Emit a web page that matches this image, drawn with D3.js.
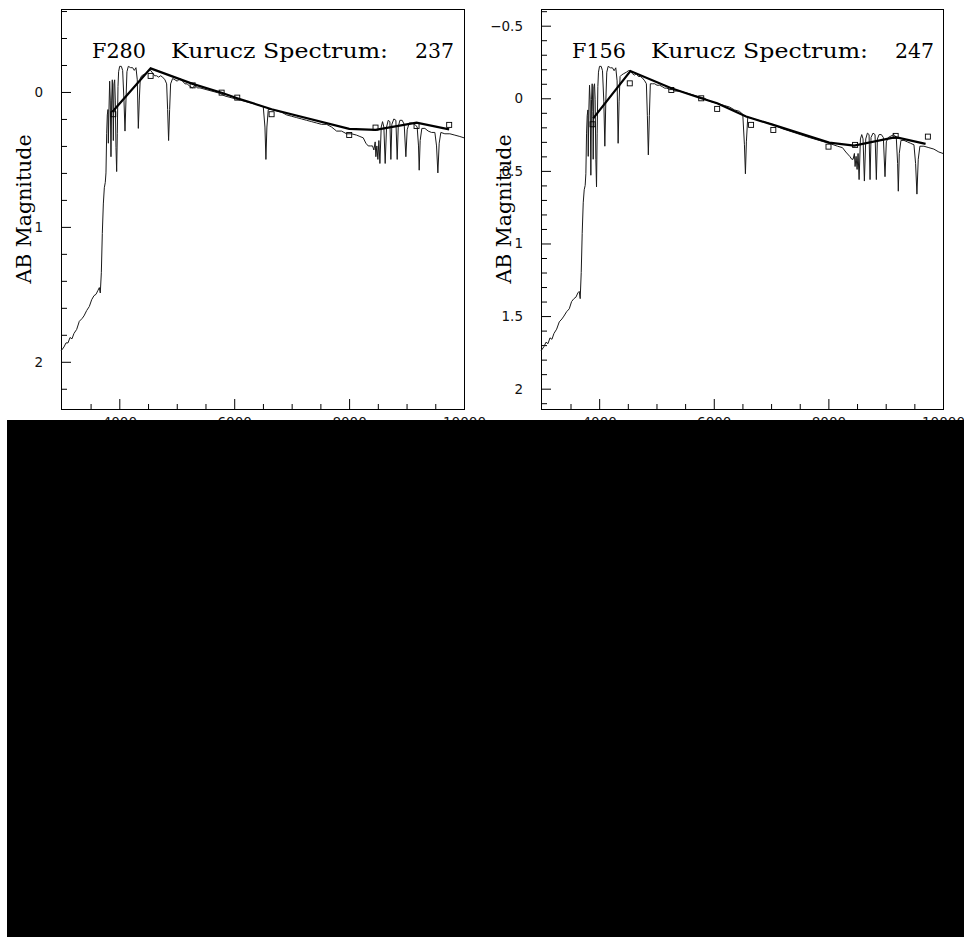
<!DOCTYPE html>
<html>
<head>
<meta charset="utf-8">
<script src="https://cdn.jsdelivr.net/npm/d3@7"></script>
<style>
body { margin: 0; background: #fff; }
svg { display: block; }
</style>
</head>
<body>
<div id="chart"></div>
<script>
// values: [wavelength (A), AB magnitude]
var spec237 = [[2985,1.92],[3037,1.89],[3072,1.86],[3107,1.86],[3142,1.82],[3176,1.83],[3211,1.79],[3258,1.76],[3304,1.70],[3350,1.68],[3385,1.66],[3432,1.62],[3478,1.59],[3519,1.54],[3559,1.51],[3594,1.50],[3629,1.47],[3652,1.45],[3669,1.49],[3687,1.34],[3704,1.05],[3722,0.83],[3739,0.71],[3756,0.67],[3768,0.60],[3780,0.31],[3791,0.17],
  [3803,0.13],[3809,0.38],[3820,0.13],[3832,-0.08],[3843,0.06],[3855,0.48],[3867,0.06],[3878,-0.09],[3890,0.13],[3896,0.36],[3907,-0.06],[3919,-0.09],[3930,0.06],[3942,0.41],[3954,0.59],[3965,0.31],[3977,-0.04],[3988,-0.15],[4006,-0.19],[4035,-0.19],[4058,-0.16],[4081,0.06],[4099,0.29],[4116,0.06],[4133,-0.15],[4157,-0.19],[4197,-0.18],[4232,-0.18],[4261,-0.16],[4290,-0.18],[4313,-0.09],[4331,0.27],[4348,0.06],[4365,-0.10],[4389,-0.12],[4429,-0.13],[4476,-0.14],[4510,-0.16],[4545,-0.16],[4580,-0.14],[4615,-0.12],[4650,-0.12],[4684,-0.11],[4719,-0.12],[4754,-0.11],[4795,-0.09],[4824,-0.06],[4841,0.13],[4858,0.36],[4876,0.13],[4893,-0.06],[4928,-0.10],[4969,-0.09],[5009,-0.08],[5056,-0.10],[5102,-0.08],[5143,-0.06],[5183,-0.06],[5230,-0.04],[5276,-0.03],[5317,-0.05],[5357,-0.03],[5404,-0.03],[5491,-0.02],[5578,-0.01],[5665,0.00],[5752,0.01],[5839,0.03],[5926,0.04],[6013,0.05],[6100,0.06],[6187,0.07],[6274,0.08],[6361,0.09],[6448,0.10],[6506,0.11],[6535,0.26],[6552,0.50],[6569,0.26],[6593,0.13],[6651,0.13],[6738,0.14],[6825,0.15],[6912,0.17],[6999,0.18],[7086,0.19],[7173,0.20],[7260,0.21],[7347,0.22],[7434,0.23],[7521,0.24],[7608,0.24],[7695,0.26],[7753,0.28],[7782,0.29],[7869,0.29],[7956,0.31],[8043,0.31],[8130,0.32],[8188,0.33],[8246,0.34],[8292,0.38],[8333,0.40],[8373,0.40],[8408,0.40],[8431,0.43],[8454,0.37],[8466,0.48],[8483,0.40],[8501,0.50],[8518,0.36],[8536,0.53],[8559,0.26],[8582,0.22],[8605,0.26],[8628,0.53],[8652,0.26],[8681,0.21],[8710,0.22],[8727,0.50],[8744,0.24],[8779,0.20],[8814,0.21],[8837,0.50],[8855,0.26],[8884,0.21],[8924,0.21],[8959,0.24],[8988,0.48],[9011,0.28],[9046,0.23],[9092,0.23],[9145,0.24],[9185,0.26],[9208,0.40],[9220,0.58],[9237,0.36],[9266,0.27],[9319,0.27],[9377,0.29],[9435,0.30],[9493,0.30],[9522,0.40],[9545,0.60],[9568,0.38],[9597,0.30],[9667,0.31],[9754,0.31],[9841,0.32],[9928,0.33],[10000,0.34]];
var synth237 = [[3880,0.146],[4545,-0.175],[5276,-0.06],[5781,0.006],[6053,0.046],[6651,0.128],[8002,0.274],[8460,0.281],[9174,0.227],[9742,0.277]];
var obs237 = [[3896,0.165],[4545,-0.119],[5276,-0.049],[5781,0.005],[6053,0.042],[6651,0.165],[8002,0.319],[8460,0.264],[9174,0.252],[9742,0.244]];

var spec247 = [[2985,1.74],[3037,1.71],[3072,1.68],[3107,1.69],[3142,1.65],[3176,1.66],[3211,1.62],[3258,1.59],[3304,1.54],[3350,1.52],[3385,1.50],[3432,1.47],[3478,1.45],[3519,1.40],[3559,1.38],[3594,1.37],[3629,1.34],[3652,1.33],[3669,1.38],[3687,1.20],[3704,0.93],[3722,0.72],[3739,0.63],[3756,0.60],[3768,0.52],[3780,0.24],[3791,0.12],
  [3803,0.08],[3809,0.40],[3820,0.08],[3832,-0.09],[3843,0.01],[3855,0.53],[3867,0.01],[3878,-0.10],[3890,0.09],[3896,0.42],[3907,-0.08],[3919,-0.10],[3930,0.01],[3942,0.42],[3954,0.61],[3965,0.24],[3977,-0.08],[3988,-0.18],[4006,-0.22],[4035,-0.22],[4058,-0.19],[4081,0.02],[4099,0.33],[4116,0.02],[4133,-0.18],[4157,-0.22],[4197,-0.21],[4232,-0.21],[4261,-0.19],[4290,-0.21],[4313,-0.12],[4331,0.31],[4348,0.02],[4365,-0.15],[4389,-0.16],[4429,-0.17],[4476,-0.18],[4510,-0.19],[4545,-0.19],[4580,-0.17],[4615,-0.16],[4650,-0.17],[4684,-0.15],[4719,-0.15],[4754,-0.14],[4795,-0.12],[4824,-0.10],[4841,0.12],[4858,0.39],[4876,0.12],[4893,-0.10],[4928,-0.10],[4969,-0.10],[5009,-0.09],[5056,-0.09],[5102,-0.08],[5143,-0.07],[5183,-0.07],[5230,-0.06],[5276,-0.06],[5317,-0.05],[5357,-0.05],[5404,-0.05],[5491,-0.04],[5578,-0.03],[5665,-0.02],[5752,-0.01],[5839,0.00],[5926,0.02],[6013,0.03],[6100,0.04],[6187,0.05],[6274,0.06],[6361,0.08],[6448,0.09],[6506,0.11],[6535,0.32],[6552,0.52],[6569,0.30],[6593,0.13],[6680,0.14],[6854,0.16],[7028,0.18],[7202,0.21],[7434,0.24],[7666,0.27],[7840,0.29],[8014,0.31],[8159,0.33],[8246,0.34],[8304,0.37],[8373,0.40],[8408,0.42],[8431,0.42],[8454,0.38],[8466,0.47],[8483,0.40],[8501,0.49],[8518,0.38],[8536,0.56],[8559,0.28],[8582,0.25],[8605,0.28],[8628,0.57],[8652,0.28],[8681,0.24],[8710,0.25],[8727,0.56],[8744,0.27],[8779,0.24],[8814,0.25],[8837,0.56],[8855,0.28],[8884,0.25],[8924,0.25],[8959,0.27],[8988,0.54],[9011,0.30],[9046,0.27],[9092,0.26],[9145,0.25],[9185,0.27],[9208,0.45],[9220,0.64],[9237,0.38],[9266,0.29],[9319,0.29],[9377,0.30],[9435,0.31],[9493,0.32],[9522,0.45],[9545,0.66],[9568,0.42],[9597,0.33],[9667,0.33],[9754,0.34],[9841,0.35],[9928,0.37],[10000,0.38]];
var synth247 = [[3896,0.138],[4545,-0.188],[5259,-0.069],[5781,0.0],[6059,0.034],[6564,0.126],[7039,0.183],[8014,0.305],[8449,0.326],[9174,0.268],[9696,0.314]];
var obs247 = [[3884,0.179],[4534,-0.103],[5259,-0.057],[5781,0.0],[6059,0.073],[6651,0.183],[7039,0.218],[8002,0.333],[8466,0.321],[9174,0.259],[9736,0.264]];

var xTicks = [4000, 6000, 8000, 10000];
var yTicks237 = [0, 1, 2];
var yTicks247 = [-0.5, 0, 0.5, 1, 1.5, 2];

var svgWidth = 964;
var svgHeight = 937;

var svg = d3.select("#chart")
            .append("svg")
            .attr("width", svgWidth)
            .attr("height", svgHeight);

function drawPanel(p) {
  var g = svg.append("g")
             .attr("transform", "translate(" + p.left + "," + p.top + ")");

  var x = d3.scaleLinear().domain([2985, 10000]).range([0, p.width]);
  var y = d3.scaleLinear().domain(p.yDomain).range([0, p.height]);

  // minor ticks first, then the labelled ones
  var xMinor = d3.range(3500, 10000, 500).filter(d => xTicks.indexOf(d) < 0);
  var yMinor = d3.range(-20, 40).map(i => +(i * p.yStep).toFixed(2))
                 .filter(d => d > p.yDomain[0] && d < p.yDomain[1] && p.yTicks.indexOf(d) < 0);

  g.append("g")
   .attr("transform", "translate(0," + p.height + ")")
   .call(d3.axisBottom(x).tickValues(xMinor).tickSize(-5).tickFormat(""));
  g.append("g")
   .attr("transform", "translate(0," + p.height + ")")
   .call(d3.axisBottom(x).tickValues(xTicks).tickSize(-10).tickPadding(8).tickFormat(d3.format("d")));
  g.append("g")
   .call(d3.axisLeft(y).tickValues(yMinor).tickSize(-6).tickFormat(""));
  g.append("g")
   .call(d3.axisLeft(y).tickValues(p.yTicks).tickSize(-10).tickPadding(18)
           .tickFormat(d => d < 0 ? "\u2212" + Math.abs(d) : String(d)));

  g.selectAll(".domain").remove();
  g.selectAll(".tick line").attr("stroke", "#000");
  g.selectAll(".tick text")
   .attr("font-family", "DejaVu Sans")
   .attr("font-size", "13.5px")
   .attr("fill", "#111");

  g.append("rect")
   .attr("x", 0.5).attr("y", 0.5)
   .attr("width", p.width).attr("height", p.height)
   .attr("fill", "none").attr("stroke", "#000").attr("stroke-width", 1);

  var line = d3.line().x(d => x(d[0])).y(d => y(d[1]));

  g.append("path")
   .datum(p.spec)
   .attr("d", line)
   .attr("fill", "none")
   .attr("stroke", "#1a1a1a")
   .attr("stroke-width", 1)
   .attr("stroke-linejoin", "round");

  g.append("path")
   .datum(p.synth)
   .attr("d", line)
   .attr("fill", "none")
   .attr("stroke", "#000")
   .attr("stroke-width", 2.2);

  g.selectAll(".obs")
   .data(p.obs)
   .enter()
   .append("rect")
   .attr("class", "obs")
   .attr("x", d => x(d[0]) - 2.5)
   .attr("y", d => y(d[1]) - 2.5)
   .attr("width", 5)
   .attr("height", 5)
   .attr("fill", "none")
   .attr("stroke", "#000")
   .attr("stroke-width", 0.9);

  // title, spread out like the plotting font of the original
  var font = "DejaVu Serif";
  g.append("text").attr("x", 31).attr("y", 49)
   .attr("font-family", font).attr("font-size", "20.5px")
   .attr("textLength", 54).attr("lengthAdjust", "spacingAndGlyphs").text(p.filter);
  g.append("text").attr("x", 110).attr("y", 49)
   .attr("font-family", font).attr("font-size", "20.5px")
   .attr("textLength", 217).attr("lengthAdjust", "spacingAndGlyphs").text("Kurucz Spectrum:");
  g.append("text").attr("x", 354).attr("y", 49)
   .attr("font-family", font).attr("font-size", "20.5px")
   .attr("textLength", 39).attr("lengthAdjust", "spacingAndGlyphs").text(p.model);

  g.append("text")
   .attr("transform", "translate(-30," + (p.height / 2) + ") rotate(-90)")
   .attr("text-anchor", "middle")
   .attr("font-family", font)
   .attr("font-size", "20.5px")
   .text("AB Magnitude");
}

drawPanel({left: 61, top: 9, width: 403, height: 400, yDomain: [-0.615, 2.35], yStep: 0.2,
           yTicks: yTicks237, spec: spec237, synth: synth237, obs: obs237, filter: "F280", model: "237"});
drawPanel({left: 541, top: 9, width: 402, height: 400, yDomain: [-0.615, 2.14], yStep: 0.1,
           yTicks: yTicks247, spec: spec247, synth: synth247, obs: obs247, filter: "F156", model: "247"});

// the lower part of the page is blacked out in the picture
svg.append("rect")
   .attr("x", 7).attr("y", 420)
   .attr("width", svgWidth - 7).attr("height", svgHeight - 420)
   .attr("fill", "#000");
</script>
</body>
</html>
